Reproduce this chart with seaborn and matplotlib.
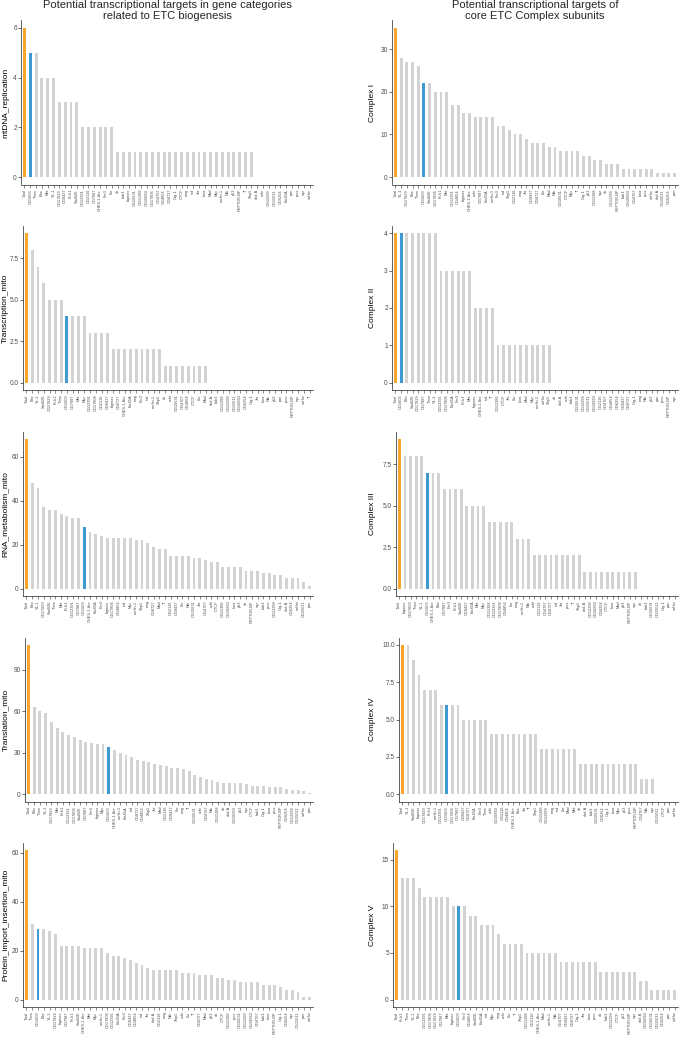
import matplotlib
matplotlib.use("Agg")
import matplotlib.pyplot as plt
import seaborn as sns

# ---- data ----
mtdna_genes = ["Total", "CG1603", "Tfam", "Ebx", "Mnt", "YL-1", "CG17829", "CG9437", "Kr-h1", "Stat92E",
               "CG12391", "CG2116", "CG7987", "CHES-1-like", "Fer3", "Lkr", "ab", "bab1", "bigmax", "CG10631",
               "CG11398", "CG16863", "CG17806", "CG4707", "CG4854", "CG8727", "Crg-1", "CTCF", "ewg", "ind",
               "Jra", "luna", "Mad", "Myc", "nerfin-1", "Nrk", "p53", "REPTOR-BP", "Tl", "Xbp1",
               "abd-A", "achi", "CG12299", "CG15011", "CG6254", "Ets65A", "pan", "pros", "sqz", "suHw"]
mtdna_counts = [6, 5, 5, 4, 4, 4, 3, 3, 3, 3, 2, 2, 2, 2, 2, 2,
                1, 1, 1, 1, 1, 1, 1, 1, 1, 1, 1, 1, 1, 1, 1, 1, 1, 1, 1, 1, 1, 1, 1, 1,
                0, 0, 0, 0, 0, 0, 0, 0, 0, 0]

transc_genes = ["Total", "Ebx", "YL-1", "Stat92E", "CG17829", "Kr-h1", "Tfam", "CG1603", "CG7987", "Mnt",
                "Myc", "CG12391", "CG17806", "CG2116", "CG9437", "bigmax", "CG8727", "CHES-1-like", "Ets65A", "ewg",
                "Fer3", "ind", "nerfin-1", "Xbp1", "ab", "achi", "CG10631", "CG4707", "CG4854", "CTCF",
                "Lkr", "Mad", "abd-A", "bab1", "CG11398", "CG12299", "CG15011", "CG16863", "CG6254", "Crg-1",
                "Jra", "luna", "Nrk", "p53", "pan", "pros", "REPTOR-BP", "sqz", "suHw", "Tl"]
transc_counts = [9, 8, 7, 6, 5, 5, 5, 4, 4, 4, 4, 3, 3, 3, 3,
                 2, 2, 2, 2, 2, 2, 2, 2, 2, 1, 1, 1, 1, 1, 1, 1, 1,
                 0, 0, 0, 0, 0, 0, 0, 0, 0, 0, 0, 0, 0, 0, 0, 0, 0, 0]

rna_genes = ["Total", "Ebx", "YL-1", "CG17829", "Stat92E", "Tfam", "Mnt", "Kr-h1", "CG12391", "CG7987",
             "CG1603", "CHES-1-like", "Ets65A", "Fer3", "bigmax", "CG17806", "CG4854", "ind", "Myc", "nerfin-1",
             "Xbp1", "ewg", "CG8727", "Mad", "Tl", "CG2116", "CG9437", "Lkr", "Nrk", "CG10631",
             "Jra", "CG4707", "achi", "CTCF", "CG11398", "CG16863", "luna", "p53", "ab", "REPTOR-BP",
             "sqz", "bab1", "pros", "CG12299", "Crg-1", "abd-A", "CG6254", "suHw", "CG15011", "pan"]
rna_counts = [68, 48, 46, 37, 36, 36, 34, 33, 32, 32, 28, 26, 25, 24, 23, 23, 23, 23, 23, 22,
              22, 21, 19, 18, 18, 15, 15, 15, 15, 14, 14, 13, 12, 12, 10, 10, 10, 10, 8, 8,
              8, 7, 7, 6, 6, 5, 5, 5, 3, 1]

transl_genes = ["Total", "Ebx", "Tfam", "YL-1", "CG17829", "Mnt", "Kr-h1", "CG12391", "CG17806", "Stat92E",
                "CG7987", "Fer3", "bigmax", "Myc", "CG1603", "CHES-1-like", "nerfin-1", "Ets65A", "ind", "CG8727",
                "CG4854", "Xbp1", "Jra", "Mad", "CG2116", "CG9437", "Lkr", "ewg", "Tl", "CG10631",
                "achi", "CG4707", "Nrk", "CG11398", "ab", "abd-A", "CG16863", "p53", "sqz", "CTCF",
                "bab1", "Crg-1", "luna", "pros", "REPTOR-BP", "CG6254", "CG12299", "CG15011", "suHw", "pan"]
transl_counts = [108, 63, 60, 59, 52, 48, 45, 43, 41, 39, 38, 37, 36, 36, 34, 32, 30, 28, 27, 25,
                 24, 23, 22, 21, 20, 19, 19, 18, 17, 14, 12, 11, 10, 9, 8, 8, 8, 8, 7, 6,
                 6, 6, 5, 5, 5, 4, 3, 3, 2, 1]

prot_genes = ["Total", "Tfam", "CG1603", "Ebx", "YL-1", "CG17829", "bigmax", "CG7987", "Kr-h1", "Stat92E",
              "CHES-1-like", "Mnt", "Myc", "nerfin-1", "CG17806", "CG12391", "Ets65A", "Fer3", "CG9437", "CG4854",
              "ind", "Jra", "abd-A", "CG2116", "ewg", "Nrk", "Xbp1", "achi", "Lkr", "Tl",
              "CG8727", "Mad", "p53", "ab", "CTCF", "CG11398", "pros", "CG10631", "CG12299", "CG16863",
              "CG4707", "bab1", "luna", "REPTOR-BP", "Crg-1", "CG6254", "sqz", "CG15011", "pan", "suHw"]
prot_counts = [61, 31, 29, 29, 28, 27, 22, 22, 22, 22, 21, 21, 21, 21, 19, 18, 18, 17, 16, 15,
               14, 13, 12, 12, 12, 12, 12, 11, 11, 11, 10, 10, 10, 9, 9, 8, 8, 7, 7, 7,
               7, 6, 6, 6, 5, 4, 4, 3, 1, 1]

c1_genes = ["Total", "YL-1", "CG17829", "Ebx", "Tfam", "CG1603", "Stat92E", "CG17806", "Kr-h1", "Mnt",
            "CG12391", "CG4854", "bigmax", "CHES-1-like", "achi", "CG7987", "Ets65A", "nerfin-1", "Fer3", "ind",
            "Xbp1", "CG2116", "ewg", "Jra", "CG9437", "CG8727", "Lkr", "Mad", "Nrk", "CG10631",
            "CTCF", "Myc", "Tl", "Crg-1", "p53", "CG11398", "sqz", "ab", "CG12299", "REPTOR-BP",
            "bab1", "CG16863", "CG4707", "luna", "pros", "suHw", "abd-A", "CG15011", "CG6254", "pan"]
c1_counts = [35, 28, 27, 27, 26, 22, 22, 20, 20, 20, 17, 17, 15, 15, 14, 14, 14, 14, 12, 12,
             11, 10, 10, 9, 8, 8, 8, 7, 7, 6, 6, 6, 6, 5, 5, 4, 4, 3, 3, 3,
             2, 2, 2, 2, 2, 2, 1, 1, 1, 1]

c2_genes = ["Total", "CG1603", "Ebx", "Stat92E", "CG17829", "CG7987", "Tfam", "YL-1", "CG12391", "CG17806",
            "Ets65A", "Fer3", "Kr-h1", "Mnt", "bigmax", "CHES-1-like", "ind", "Tl", "CG11398", "CTCF",
            "Jra", "Lkr", "luna", "Mad", "Myc", "nerfin-1", "suHw", "Xbp1", "ab", "abd-A",
            "achi", "bab1", "CG10631", "CG12299", "CG15011", "CG16863", "CG2116", "CG4707", "CG4854", "CG6254",
            "CG9437", "CG8727", "Crg-1", "ewg", "Nrk", "p53", "pan", "pros", "REPTOR-BP", "sqz"]
c2_counts = [4, 4, 4, 4, 4, 4, 4, 4, 3, 3, 3, 3, 3, 3, 2, 2, 2, 2,
             1, 1, 1, 1, 1, 1, 1, 1, 1, 1,
             0, 0, 0, 0, 0, 0, 0, 0, 0, 0, 0, 0, 0, 0, 0, 0, 0, 0, 0, 0, 0, 0]

c3_genes = ["Total", "bigmax", "CG17829", "Tfam", "YL-1", "CG1603", "CHES-1-like", "Ebx", "CG7987", "Fer3",
            "Kr-h1", "Stat92E", "CG9437", "Ets65A", "Mnt", "Myc", "CG11398", "CG12391", "CG17806", "CG4854",
            "Lkr", "ewg", "nerfin-1", "Nrk", "achi", "CG2116", "CG4707", "CG8727", "ind", "Jra",
            "pros", "Tl", "Xbp1", "abd-A", "CG12299", "CG16863", "CG6254", "CTCF", "luna", "Mad",
            "p53", "REPTOR-BP", "sqz", "ab", "bab1", "CG10631", "CG15011", "Crg-1", "pan", "suHw"]
c3_counts = [9, 8, 8, 8, 8, 7, 7, 7, 6, 6, 6, 6, 5, 5, 5, 5, 4, 4, 4, 4,
             4, 3, 3, 3, 2, 2, 2, 2, 2, 2, 2, 2, 2, 1, 1, 1, 1, 1, 1, 1,
             1, 1, 1, 0, 0, 0, 0, 0, 0, 0]

c4_genes = ["Total", "YL-1", "Stat92E", "bigmax", "CG17829", "Kr-h1", "nerfin-1", "CG12391", "CG1603", "CG17806",
            "CG7987", "CG9437", "CG8727", "Ets65A", "Fer3", "Tfam", "achi", "CG16863", "CG2116", "CG4854",
            "CHES-1-like", "Ebx", "Jra", "Tl", "Xbp1", "CG11398", "CG12299", "ewg", "ind", "Lkr",
            "Mad", "Mnt", "ab", "abd-A", "bab1", "CG10631", "CG6254", "Crg-1", "luna", "Myc",
            "p53", "pros", "REPTOR-BP", "CG4707", "Nrk", "sqz", "CG15011", "CTCF", "pan", "suHw"]
c4_counts = [10, 10, 9, 8, 7, 7, 7, 6, 6, 6, 6, 5, 5, 5, 5, 5, 4, 4, 4, 4,
             4, 4, 4, 4, 4, 3, 3, 3, 3, 3, 3, 3, 2, 2, 2, 2, 2, 2, 2, 2,
             2, 2, 2, 1, 1, 1, 0, 0, 0, 0]

c5_genes = ["Total", "Kr-h1", "Tfam", "YL-1", "Ebx", "CG12391", "CG17806", "CG17829", "CG7987", "Mnt",
            "bigmax", "CG1603", "Fer3", "CG4854", "Stat92E", "Ets65A", "ind", "Myc", "ewg", "achi",
            "Lkr", "Tl", "Xbp1", "CG11398", "CG2116", "CHES-1-like", "Mad", "nerfin-1", "Nrk", "CG4707",
            "CG9437", "CG8727", "Crg-1", "Jra", "luna", "pros", "ab", "bab1", "CG12299", "CTCF",
            "p53", "REPTOR-BP", "sqz", "abd-A", "CG16863", "CG10631", "CG15011", "CG6254", "pan", "suHw"]
c5_counts = [16, 13, 13, 13, 12, 11, 11, 11, 11, 11, 10, 10, 10, 9, 9, 8, 8, 8, 7, 6,
             6, 6, 6, 5, 5, 5, 5, 5, 5, 4, 4, 4, 4, 4, 4, 4, 3, 3, 3, 3,
             3, 3, 3, 2, 2, 1, 1, 1, 1, 1]

left_title = "Potential transcriptional targets in gene categories\nrelated to ETC biogenesis"
right_title = "Potential transcriptional targets of\ncore ETC Complex subunits"

ORANGE = "#F8A52B"
BLUE = "#3F9AD4"
GREY = "#D3D3D3"

W, H = 680, 1044

sns.set_style("ticks")
plt.rcParams["font.family"] = ["Liberation Sans", "DejaVu Sans"]

fig = plt.figure(figsize=(W / 100, H / 100), dpi=100)

left_col = [
    (mtdna_genes, mtdna_counts, "mtDNA_replication", [0, 2, 4, 6], ["0", "2", "4", "6"]),
    (transc_genes, transc_counts, "Transcription_mito", [0, 2.5, 5, 7.5], ["0.0", "2.5", "5.0", "7.5"]),
    (rna_genes, rna_counts, "RNA_metabolism_mito", [0, 20, 40, 60], ["0", "20", "40", "60"]),
    (transl_genes, transl_counts, "Translation_mito", [0, 30, 60, 90], ["0", "30", "60", "90"]),
    (prot_genes, prot_counts, "Protein_import_insertion_mito", [0, 20, 40, 60], ["0", "20", "40", "60"]),
]
right_col = [
    (c1_genes, c1_counts, "Complex I", [0, 10, 20, 30], ["0", "10", "20", "30"]),
    (c2_genes, c2_counts, "Complex II", [0, 1, 2, 3, 4], ["0", "1", "2", "3", "4"]),
    (c3_genes, c3_counts, "Complex III", [0, 2.5, 5, 7.5], ["0.0", "2.5", "5.0", "7.5"]),
    (c4_genes, c4_counts, "Complex IV", [0, 2.5, 5, 7.5, 10], ["0.0", "2.5", "5.0", "7.5", "10.0"]),
    (c5_genes, c5_counts, "Complex V", [0, 5, 10, 15], ["0", "5", "10", "15"]),
]

row_bottoms = [184.5, 390, 596, 801.5, 1007]
panel_h = 164
left_x0 = [21, 23, 23, 25, 23]
right_x0 = [392, 392, 396, 399, 393]


def draw_panel(ax, genes, counts, ylab, ticks, ticklabs, ylab_x):
    pal = {}
    for g in genes:
        pal[g] = GREY
    pal["Total"] = ORANGE
    pal["CG1603"] = BLUE
    sns.barplot(x=genes, y=counts, hue=genes, palette=pal, legend=False,
                width=0.5, saturation=1, linewidth=0, ax=ax)
    top = max(counts)
    ax.set_xlim(-0.6, len(genes) - 0.4)
    ax.set_ylim(-0.05 * top, 1.05 * top)
    ax.set_yticks(ticks)
    ax.set_yticklabels(ticklabs)
    ax.tick_params(axis="y", labelsize=4.7, labelcolor="#4D4D4D", length=2, width=0.5, pad=1.0, color="#333333")
    ax.tick_params(axis="x", labelsize=2.8, labelcolor="#4D4D4D", length=2, width=0.4, pad=1.2,
                   color="#333333", rotation=90)
    ax.set_ylabel(ylab, fontsize=6.0, color="black")
    ax.yaxis.set_label_coords(ylab_x, 0.5)
    ax.set_xlabel("")
    for s in ["left", "bottom"]:
        ax.spines[s].set_linewidth(0.5)
        ax.spines[s].set_color("#222222")
    sns.despine(ax=ax)


for i, (g, c, lab, t, tl) in enumerate(left_col):
    x0, x1 = left_x0[i], 313
    b = row_bottoms[i]
    ax = fig.add_axes([x0 / W, 1 - b / H, (x1 - x0) / W, panel_h / H])
    draw_panel(ax, g, c, lab, t, tl, (9.0 - x0) / (x1 - x0))

for i, (g, c, lab, t, tl) in enumerate(right_col):
    x0, x1 = right_x0[i], 678
    b = row_bottoms[i]
    ax = fig.add_axes([x0 / W, 1 - b / H, (x1 - x0) / W, panel_h / H])
    draw_panel(ax, g, c, lab, t, tl, (376.0 - x0) / (x1 - x0))

fig.text((21 + 313) / 2 / W, 1 - 0.5 / H, left_title, ha="center", va="top", fontsize=8, linespacing=1.05)
fig.text((392 + 678) / 2 / W, 1 - 0.5 / H, right_title, ha="center", va="top", fontsize=8, linespacing=1.05)

fig.savefig("out.png", dpi=100)
